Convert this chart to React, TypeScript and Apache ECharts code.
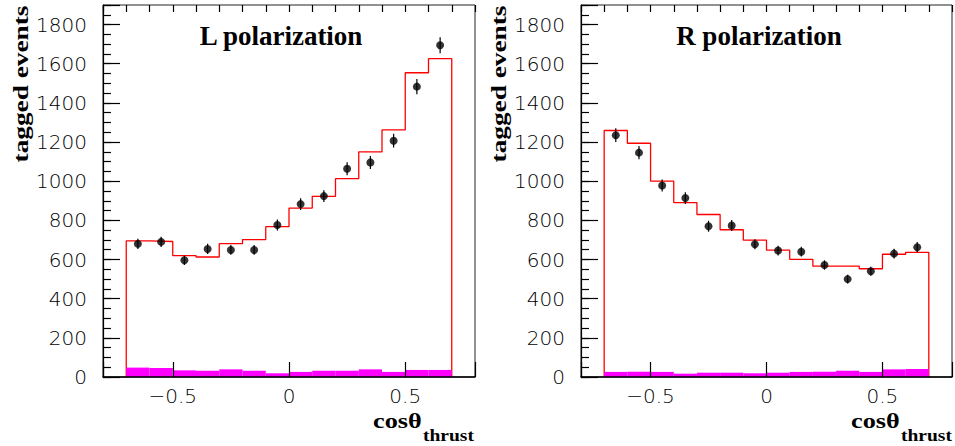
import React, { useEffect, useRef } from 'react';
import * as echarts from 'echarts';

// ---- data ----
const binEdges = [-0.7, -0.6, -0.5, -0.4, -0.3, -0.2, -0.1, 0, 0.1, 0.2, 0.3, 0.4, 0.5, 0.6, 0.7];
const binCenters = [-0.65, -0.55, -0.45, -0.35, -0.25, -0.15, -0.05, 0.05, 0.15, 0.25, 0.35, 0.45, 0.55, 0.65];

// L polarization
const lFit = [695, 692, 620, 613, 681, 702, 768, 863, 923, 1013, 1150, 1262, 1554, 1626];
const lData = [680, 690, 596, 654, 649, 649, 776, 883, 924, 1064, 1096, 1207, 1483, 1694];
const lErr = [26, 26, 24, 26, 25, 25, 28, 30, 30, 33, 33, 35, 39, 41];
const lBkg = [48, 46, 34, 32, 39, 32, 19, 26, 32, 32, 39, 26, 36, 36];

// R polarization
const rFit = [1259, 1194, 1000, 891, 830, 752, 699, 648, 601, 566, 566, 553, 627, 637];
const rData = [1235, 1146, 978, 914, 770, 774, 678, 646, 640, 572, 500, 540, 630, 663];
const rErr = [35, 34, 31, 30, 28, 28, 26, 25, 25, 24, 22, 23, 25, 26];
const rBkg = [26, 27, 26, 17, 22, 22, 19, 22, 26, 27, 32, 26, 39, 41];

const panelTitles = ['L polarization', 'R polarization'];
const xTickValues = [-0.5, 0, 0.5];
const xTickLabels = ['\u22120.5', '0', '0.5'];
const yLabelStep = 200;
const yLabelMax = 1800;
const yTitle = 'tagged events';
const xTitleMain = 'cos\u03b8';
const xTitleSub = 'thrust';

// ---- layout ----
const GRID_LEFTS = [103, 581];
const GRID_TOP = 5;
const GRID_SIZE = 372;
const LABEL_FONT = 'DejaVu Sans';
const SERIF = '"Liberation Serif", "Times New Roman", serif';

function buildPanel(i: number, fit: number[], data: number[], err: number[], bkg: number[]) {
  const xMajor = 2 * i;
  const yMajor = 2 * i;

  const xAxes = [
    {
      type: 'value', gridIndex: i, min: -0.8, max: 0.8, splitNumber: 3, z: 10,
      axisLine: { show: true, onZero: false, lineStyle: { color: '#000', width: 1.5 } },
      axisTick: { show: true, inside: true, length: 15, lineStyle: { color: '#000', width: 1.2 } },
      splitLine: { show: false },
      axisLabel: {
        show: true, margin: 9, color: '#000', fontFamily: LABEL_FONT, fontSize: 20, fontWeight: 200,
        formatter: (v: number) => {
          const k = xTickValues.findIndex((t) => Math.abs(t - v) < 1e-6);
          return k >= 0 ? xTickLabels[k] : '';
        },
      },
    },
    {
      type: 'value', gridIndex: i, min: -0.8, max: 0.8, interval: 0.1, z: 10,
      axisLine: { show: false, onZero: false },
      axisTick: { show: true, inside: true, length: 7, lineStyle: { color: '#000', width: 1.2 } },
      splitLine: { show: false },
      axisLabel: { show: false },
    },
  ];

  const yAxes = [
    {
      type: 'value', gridIndex: i, min: 0, max: 1900, interval: 200, z: 10,
      axisLine: { show: true, onZero: false, lineStyle: { color: '#000', width: 1.2 } },
      axisTick: { show: true, inside: true, length: 17, lineStyle: { color: '#000', width: 1.2 } },
      splitLine: { show: false },
      axisLabel: {
        show: true, margin: 16, color: '#000', fontFamily: LABEL_FONT, fontSize: 20, fontWeight: 200,
        formatter: (v: number) => (v <= yLabelMax && v % yLabelStep === 0 ? String(v) : ''),
      },
    },
    {
      type: 'value', gridIndex: i, min: 0, max: 1900, interval: 50, z: 10, position: 'left',
      axisLine: { show: false, onZero: false },
      axisTick: { show: true, inside: true, length: 8, lineStyle: { color: '#000', width: 1.2 } },
      splitLine: { show: false },
      axisLabel: { show: false },
    },
  ];

  const fitLine: number[][] = [[binEdges[0], 0]];
  fit.forEach((v, k) => {
    fitLine.push([binEdges[k], v]);
    fitLine.push([binEdges[k + 1], v]);
  });
  fitLine.push([binEdges[binEdges.length - 1], 0]);

  const series = [
    {
      type: 'line', xAxisIndex: xMajor, yAxisIndex: yMajor, data: fitLine, symbol: 'none', z: 2,
      lineStyle: { color: '#ff0000', width: 1.3 }, silent: true,
    },
    {
      type: 'custom', xAxisIndex: xMajor, yAxisIndex: yMajor, z: 3, silent: true,
      encode: { x: [0, 1], y: 2 },
      data: bkg.map((v, k) => [binEdges[k], binEdges[k + 1], v]),
      renderItem: (params: any, api: any) => {
        const p0 = api.coord([api.value(0), 0]);
        const p1 = api.coord([api.value(1), api.value(2)]);
        return {
          type: 'rect',
          shape: { x: p0[0], y: p1[1], width: p1[0] - p0[0], height: p0[1] - p1[1] },
          style: { fill: '#ff00ff' },
        };
      },
    },
    {
      type: 'custom', xAxisIndex: xMajor, yAxisIndex: yMajor, z: 4, silent: true,
      encode: { x: 0, y: 1 },
      data: data.map((v, k) => [binCenters[k], v, err[k]]),
      renderItem: (params: any, api: any) => {
        const x = api.value(0), y = api.value(1), e = api.value(2);
        const a = api.coord([x, y - e]);
        const b = api.coord([x, y + e]);
        return {
          type: 'line',
          shape: { x1: a[0], y1: a[1], x2: b[0], y2: b[1] },
          style: { stroke: '#000', lineWidth: 1.2 },
        };
      },
    },
    {
      type: 'scatter', xAxisIndex: xMajor, yAxisIndex: yMajor, z: 5, silent: true,
      data: data.map((v, k) => [binCenters[k], v]),
      symbol: 'circle', symbolSize: 8, itemStyle: { color: '#000' },
    },
  ];

  const gl = GRID_LEFTS[i];
  const graphics = [
    {
      type: 'text', x: gl + 178, y: 36, z: 20,
      style: { text: panelTitles[i], fontFamily: SERIF, fontWeight: 'bold', fontSize: 27, fill: '#000', align: 'center', verticalAlign: 'middle' },
    },
    {
      type: 'text', x: gl - 82, y: 84, rotation: Math.PI / 2, scaleX: 1.3, z: 20,
      style: { text: yTitle, fontFamily: SERIF, fontWeight: 'bold', fontSize: 21, fill: '#000', align: 'center', verticalAlign: 'middle' },
    },
    {
      type: 'text', x: gl + 270, y: 421, scaleX: 1.25, z: 20,
      style: { text: xTitleMain, fontFamily: SERIF, fontWeight: 'bold', fontSize: 21, fill: '#000', align: 'left', verticalAlign: 'middle' },
    },
    {
      type: 'text', x: gl + 320, y: 436, scaleX: 1.22, z: 20,
      style: { text: xTitleSub, fontFamily: SERIF, fontWeight: 'bold', fontSize: 16, fill: '#000', align: 'left', verticalAlign: 'middle' },
    },
  ];

  return { xAxes, yAxes, series, graphics };
}

export default function App() {
  const ref = useRef<HTMLDivElement>(null);
  useEffect(() => {
    if (!ref.current) return;
    const chart = echarts.init(ref.current, undefined, { renderer: 'svg' });
    const L = buildPanel(0, lFit, lData, lErr, lBkg);
    const R = buildPanel(1, rFit, rData, rErr, rBkg);
    chart.setOption({
      animation: false,
      backgroundColor: '#fff',
      grid: GRID_LEFTS.map((left) => ({
        left, top: GRID_TOP, width: GRID_SIZE, height: GRID_SIZE,
        show: true, borderColor: '#222', borderWidth: 1, backgroundColor: 'transparent',
      })),
      xAxis: [...L.xAxes, ...R.xAxes],
      yAxis: [...L.yAxes, ...R.yAxes],
      series: [...L.series, ...R.series],
      graphic: [...L.graphics, ...R.graphics],
    });
    return () => chart.dispose();
  }, []);
  return (
    <div
      ref={ref}
      style={{ position: 'fixed', left: 0, top: 0, width: 955, height: 446, background: '#fff' }}
    />
  );
}
